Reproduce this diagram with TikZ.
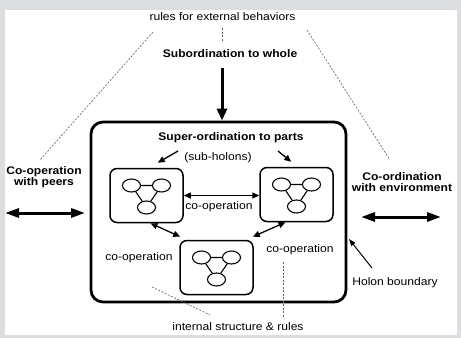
\documentclass[tikz,border=0pt]{standalone}
\usepackage{fontspec}
\setmainfont{Liberation Sans}[FakeStretch=1.1]
\usetikzlibrary{arrows.meta,calc,shapes.geometric}

\definecolor{panelgrey}{RGB}{220,221,225}
\definecolor{guidegrey}{RGB}{95,95,95}

\begin{document}
\begin{tikzpicture}[x=1pt, y=-1pt,
  txt/.style={font=\fontsize{11}{11}\selectfont, inner sep=0pt},
  btxt/.style={font=\fontsize{11}{11}\selectfont\bfseries, inner sep=0pt, align=center},
  holonbox/.style={draw, line width=2.8pt, rounded corners=12pt, minimum width=255pt, minimum height=180pt},
  subbox/.style={draw, line width=1.5pt, rounded corners=7pt, minimum width=73pt, minimum height=54pt},
  cell/.style={draw, ellipse, line width=1.1pt, minimum width=18pt, minimum height=13pt, inner sep=0pt},
  guide/.style={guidegrey, line width=0.6pt, dash pattern=on 2pt off 1.5pt},
  bigarrow/.style={line width=3pt, -{Triangle[length=12pt,width=10pt]}},
  bigboth/.style={line width=3pt, {Triangle[length=14pt,width=9pt]}-{Triangle[length=14pt,width=9pt]}},
  smallarrow/.style={line width=1.3pt, -{Triangle[length=7pt,width=6pt]}},
  smallboth/.style={line width=1.3pt, {Triangle[length=7pt,width=6pt]}-{Triangle[length=7pt,width=6pt]}}]

% panel
\fill[panelgrey] (0,0) rectangle (461,338);
\fill[white] (5,10) rectangle (457,335);

% texts
\node[txt]  (rules) at (222.5,17) {rules for external behaviors};
\node[btxt] (whole) at (230,54) {Subordination to whole};
\node[holonbox] (holon) at (218.5,212) {};
\node[btxt] (parts) at (231,138) {Super-ordination to parts};
\node[txt]  (subh)  at (218,158) {(sub-holons)};
\node[btxt] (peers) at (44,177) {Co-operation\\with peers};
\node[btxt] (env)   at (402,182.5) {Co-ordination\\with environment};
\node[txt]  (bound) at (395,283) {Holon boundary};
\node[txt]  (inner) at (238,327) {internal structure \& rules};
\node[txt]  (coopm) at (219,207) {co-operation};
\node[txt]  (coopl) at (139,258) {co-operation};
\node[txt]  (coopr) at (300,250) {co-operation};

% sub-holons
\foreach \n/\x/\y in {left/146.5/195.5, right/296.5/194.5, low/216.5/267.5} {
  \node[subbox] (\n) at (\x,\y) {};
  \node[cell] (\n-a) at ($(\n)+(-15,-10)$) {};
  \node[cell] (\n-b) at ($(\n)+(15,-10)$) {};
  \node[cell] (\n-c) at ($(\n)+(0,12)$) {};
  \draw[line width=1.1pt] (\n-a) -- (\n-b) (\n-a) -- (\n-c) (\n-b) -- (\n-c);
}

% free ends
\coordinate (downtop) at (222,68);
\coordinate (peerl) at (5,213);
\coordinate (peerr) at (85,213);
\coordinate (envl) at (361,217);
\coordinate (envr) at (441,217);
\coordinate (supl) at (178,151);
\coordinate (supr) at (278,151);
\coordinate (boundtail) at (372,268);
\coordinate (boundtip) at (349,239);

% arrows
\draw[bigarrow] (downtop) -- (downtop |- holon.north);
\draw[bigboth] (peerl) -- (peerr);
\draw[bigboth] (envl) -- (envr);
\draw[smallarrow] (supl) -- ($(left.north east)+(-26,-5)$);
\draw[smallarrow] (supr) -- ($(right.north west)+(32,-5)$);
\draw[smallboth] (left.east) -- (left.east -| right.west);
\draw[smallboth] ($(left.south)+(4,0)$) -- ($(low.north west)+(1,-3)$);
\draw[smallboth] ($(right.south)+(-11,0)$) -- ($(low.north east)+(-1,-3)$);
\draw[line width=1pt, -{Triangle[length=7pt,width=5pt]}] (boundtail) -- (boundtip);

% dashed guides
\draw[guide] (153,32) -- (40,160);
\draw[guide] (307,30) -- (390,160);
\draw[guide] (rules.south -| downtop) ++(0,7) -- ++(0,13);
\draw[guide] (152,287) -- (210,315);
\draw[guide] (283,262) -- (283,318);

\end{tikzpicture}
\end{document}
